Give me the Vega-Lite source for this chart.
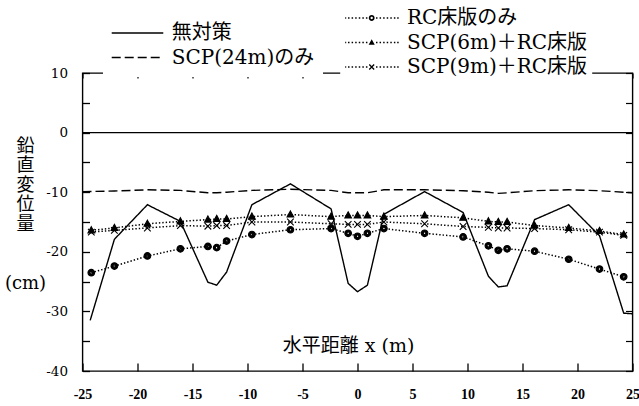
{
  "$schema": "https://vega.github.io/schema/vega-lite/v6.json",
  "width": 550,
  "height": 298,
  "autosize": {"type": "none"},
  "padding": {"left": 82.5, "top": 73, "right": 6.5, "bottom": 35},
  "background": "white",
  "config": {"view": {"stroke": "black", "strokeWidth": 1.4}},
  "datasets": {
    "lines": [
      {"case": "無対策", "x": -24.3, "y": -31.5},
      {"case": "無対策", "x": -22.1, "y": -17.9},
      {"case": "無対策", "x": -19.1, "y": -12.1},
      {"case": "無対策", "x": -16.1, "y": -14.9},
      {"case": "無対策", "x": -13.6, "y": -25.1},
      {"case": "無対策", "x": -12.8, "y": -25.6},
      {"case": "無対策", "x": -11.9, "y": -23.4},
      {"case": "無対策", "x": -9.6, "y": -12.1},
      {"case": "無対策", "x": -6.1, "y": -8.6},
      {"case": "無対策", "x": -2.4, "y": -12.8},
      {"case": "無対策", "x": -0.85, "y": -25.3},
      {"case": "無対策", "x": 0, "y": -26.7},
      {"case": "無対策", "x": 0.9, "y": -25.6},
      {"case": "無対策", "x": 2.4, "y": -13.7},
      {"case": "無対策", "x": 6.1, "y": -9.9},
      {"case": "無対策", "x": 9.6, "y": -13.4},
      {"case": "無対策", "x": 11.9, "y": -24.1},
      {"case": "無対策", "x": 12.8, "y": -25.9},
      {"case": "無対策", "x": 13.6, "y": -25.7},
      {"case": "無対策", "x": 16.1, "y": -14.6},
      {"case": "無対策", "x": 19.2, "y": -12.1},
      {"case": "無対策", "x": 22.0, "y": -17.3},
      {"case": "無対策", "x": 24.2, "y": -30.3},
      {"case": "無対策", "x": 25, "y": -30.4},
      {"case": "SCP(24m)のみ", "x": -25, "y": -9.9},
      {"case": "SCP(24m)のみ", "x": -22.1, "y": -9.8},
      {"case": "SCP(24m)のみ", "x": -19.1, "y": -9.6},
      {"case": "SCP(24m)のみ", "x": -16.1, "y": -9.7},
      {"case": "SCP(24m)のみ", "x": -13.6, "y": -10.1},
      {"case": "SCP(24m)のみ", "x": -12.8, "y": -10.1},
      {"case": "SCP(24m)のみ", "x": -11.9, "y": -10.0},
      {"case": "SCP(24m)のみ", "x": -9.6, "y": -9.7},
      {"case": "SCP(24m)のみ", "x": -6.1, "y": -9.5},
      {"case": "SCP(24m)のみ", "x": -2.4, "y": -9.7},
      {"case": "SCP(24m)のみ", "x": -0.85, "y": -10.1},
      {"case": "SCP(24m)のみ", "x": 0, "y": -10.1},
      {"case": "SCP(24m)のみ", "x": 0.9, "y": -10.1},
      {"case": "SCP(24m)のみ", "x": 2.4, "y": -9.6},
      {"case": "SCP(24m)のみ", "x": 6.1, "y": -9.6},
      {"case": "SCP(24m)のみ", "x": 9.6, "y": -9.75},
      {"case": "SCP(24m)のみ", "x": 11.9, "y": -10.0},
      {"case": "SCP(24m)のみ", "x": 12.8, "y": -10.2},
      {"case": "SCP(24m)のみ", "x": 13.6, "y": -10.1},
      {"case": "SCP(24m)のみ", "x": 16.1, "y": -9.75},
      {"case": "SCP(24m)のみ", "x": 19.2, "y": -9.6},
      {"case": "SCP(24m)のみ", "x": 22.0, "y": -9.75},
      {"case": "SCP(24m)のみ", "x": 24.2, "y": -10.0},
      {"case": "SCP(24m)のみ", "x": 25, "y": -10.1}
    ],
    "dotted": [
      {"method": "RC床版のみ", "x": -24.2, "y": -23.5},
      {"method": "RC床版のみ", "x": -22.1, "y": -22.4},
      {"method": "RC床版のみ", "x": -19.1, "y": -20.7},
      {"method": "RC床版のみ", "x": -16.1, "y": -19.5},
      {"method": "RC床版のみ", "x": -13.6, "y": -19.1},
      {"method": "RC床版のみ", "x": -12.8, "y": -19.3},
      {"method": "RC床版のみ", "x": -11.9, "y": -18.2},
      {"method": "RC床版のみ", "x": -9.6, "y": -17.1},
      {"method": "RC床版のみ", "x": -6.1, "y": -16.3},
      {"method": "RC床版のみ", "x": -2.4, "y": -16.1},
      {"method": "RC床版のみ", "x": -0.85, "y": -16.9},
      {"method": "RC床版のみ", "x": 0, "y": -17.4},
      {"method": "RC床版のみ", "x": 0.9, "y": -16.9},
      {"method": "RC床版のみ", "x": 2.4, "y": -16.1},
      {"method": "RC床版のみ", "x": 6.1, "y": -16.9},
      {"method": "RC床版のみ", "x": 9.6, "y": -17.5},
      {"method": "RC床版のみ", "x": 11.9, "y": -19.0},
      {"method": "RC床版のみ", "x": 12.8, "y": -19.75},
      {"method": "RC床版のみ", "x": 13.6, "y": -19.5},
      {"method": "RC床版のみ", "x": 16.1, "y": -19.9},
      {"method": "RC床版のみ", "x": 19.2, "y": -21.25},
      {"method": "RC床版のみ", "x": 22.0, "y": -22.9},
      {"method": "RC床版のみ", "x": 24.2, "y": -24.2},
      {"method": "SCP(6m)＋RC床版", "x": -24.2, "y": -16.4},
      {"method": "SCP(6m)＋RC床版", "x": -22.1, "y": -16.0},
      {"method": "SCP(6m)＋RC床版", "x": -19.1, "y": -15.3},
      {"method": "SCP(6m)＋RC床版", "x": -16.1, "y": -14.9},
      {"method": "SCP(6m)＋RC床版", "x": -13.6, "y": -14.6},
      {"method": "SCP(6m)＋RC床版", "x": -12.8, "y": -14.5},
      {"method": "SCP(6m)＋RC床版", "x": -11.9, "y": -14.5},
      {"method": "SCP(6m)＋RC床版", "x": -9.6, "y": -14.1},
      {"method": "SCP(6m)＋RC床版", "x": -6.1, "y": -13.75},
      {"method": "SCP(6m)＋RC床版", "x": -2.4, "y": -14.1},
      {"method": "SCP(6m)＋RC床版", "x": -0.85, "y": -13.9},
      {"method": "SCP(6m)＋RC床版", "x": 0, "y": -13.9},
      {"method": "SCP(6m)＋RC床版", "x": 0.9, "y": -13.9},
      {"method": "SCP(6m)＋RC床版", "x": 2.4, "y": -14.1},
      {"method": "SCP(6m)＋RC床版", "x": 6.1, "y": -13.9},
      {"method": "SCP(6m)＋RC床版", "x": 9.6, "y": -14.3},
      {"method": "SCP(6m)＋RC床版", "x": 11.9, "y": -14.9},
      {"method": "SCP(6m)＋RC床版", "x": 12.8, "y": -15.0},
      {"method": "SCP(6m)＋RC床版", "x": 13.6, "y": -15.0},
      {"method": "SCP(6m)＋RC床版", "x": 16.1, "y": -15.6},
      {"method": "SCP(6m)＋RC床版", "x": 19.2, "y": -16.0},
      {"method": "SCP(6m)＋RC床版", "x": 22.0, "y": -16.5},
      {"method": "SCP(6m)＋RC床版", "x": 24.2, "y": -17.1},
      {"method": "SCP(9m)＋RC床版", "x": -24.2, "y": -16.7},
      {"method": "SCP(9m)＋RC床版", "x": -22.1, "y": -16.4},
      {"method": "SCP(9m)＋RC床版", "x": -19.1, "y": -16.0},
      {"method": "SCP(9m)＋RC床版", "x": -16.1, "y": -15.6},
      {"method": "SCP(9m)＋RC床版", "x": -13.6, "y": -15.7},
      {"method": "SCP(9m)＋RC床版", "x": -12.8, "y": -15.6},
      {"method": "SCP(9m)＋RC床版", "x": -11.9, "y": -15.6},
      {"method": "SCP(9m)＋RC床版", "x": -9.6, "y": -15.0},
      {"method": "SCP(9m)＋RC床版", "x": -6.1, "y": -15.0},
      {"method": "SCP(9m)＋RC床版", "x": -2.4, "y": -15.3},
      {"method": "SCP(9m)＋RC床版", "x": -0.85, "y": -15.4},
      {"method": "SCP(9m)＋RC床版", "x": 0, "y": -15.4},
      {"method": "SCP(9m)＋RC床版", "x": 0.9, "y": -15.4},
      {"method": "SCP(9m)＋RC床版", "x": 2.4, "y": -15.0},
      {"method": "SCP(9m)＋RC床版", "x": 6.1, "y": -15.3},
      {"method": "SCP(9m)＋RC床版", "x": 9.6, "y": -15.75},
      {"method": "SCP(9m)＋RC床版", "x": 11.9, "y": -15.9},
      {"method": "SCP(9m)＋RC床版", "x": 12.8, "y": -16.0},
      {"method": "SCP(9m)＋RC床版", "x": 13.6, "y": -16.0},
      {"method": "SCP(9m)＋RC床版", "x": 16.1, "y": -16.1},
      {"method": "SCP(9m)＋RC床版", "x": 19.2, "y": -16.3},
      {"method": "SCP(9m)＋RC床版", "x": 22.0, "y": -16.7},
      {"method": "SCP(9m)＋RC床版", "x": 24.2, "y": -17.25}
    ],
    "zero": [{"y": 0}]
  },
  "layer": [
    {
      "data": {"name": "dotted"},
      "mark": {"type": "line", "color": "black", "strokeWidth": 1.5, "strokeDash": [1.4, 2.0]},
      "encoding": {
        "x": {"field": "x", "type": "quantitative", "scale": {"domain": [-25, 25], "nice": false, "zero": false},
          "axis": {"orient": "bottom", "values": [-25, -20, -15, -10, -5, 0, 5, 10, 15, 20, 25],
            "title": "水平距離 x (m)", "titleX": 265.5, "titleY": -26, "titleAlign": "center", "titleBaseline": "middle",
            "titleFont": "DejaVu Serif, Noto Sans CJK JP", "titleFontSize": 19, "titleFontWeight": "normal", "titleColor": "black",
            "domain": false, "grid": false, "tickSize": -8, "tickColor": "black", "tickWidth": 1.3,
            "labelPadding": 24, "labelFont": "Liberation Serif", "labelFontSize": 14, "labelFontWeight": "bold", "labelColor": "black",
            "labelExpr": "'' + datum.value", "labelFlush": false, "labelOverlap": false, "labelBound": false}},
        "y": {"field": "y", "type": "quantitative", "scale": {"domain": [-40, 10], "nice": false, "zero": false},
          "axis": {"orient": "left", "values": [-40, -35, -30, -25, -20, -15, -10, -5, 0, 5, 10],
            "title": ["鉛", "直", "変", "位", "量"], "titleAngle": 0, "titleX": -57.5, "titleY": 64,
            "titleAlign": "center", "titleBaseline": "top", "titleFont": "DejaVu Serif, Noto Sans CJK JP", "titleFontSize": 18,
            "titleLineHeight": 19.5, "titleFontWeight": "normal", "titleColor": "black",
            "domain": false, "grid": false, "tickSize": -7, "tickColor": "black", "tickWidth": 1.3,
            "labelPadding": 22, "labelFont": "DejaVu Serif", "labelFontSize": 13.5, "labelColor": "black", "labelBaseline": "middle",
            "labelExpr": "datum.value % 10 === 0 ? '' + datum.value : ''", "labelFlush": false, "labelOverlap": false, "labelBound": false}},
        "detail": {"field": "method"}
      }
    },
    {
      "data": {"name": "dotted"},
      "mark": {"type": "point", "filled": true, "fill": "black", "stroke": "black", "strokeWidth": 1.1, "size": 44, "opacity": 1},
      "encoding": {
        "x": {"field": "x", "type": "quantitative",
          "axis": {"orient": "top", "values": [-25, -20, -15, -10, -5, 0, 5, 10, 15, 20, 25], "labels": false, "title": null,
            "domain": false, "grid": false, "tickSize": -5, "tickColor": "black", "tickWidth": 1.2}},
        "y": {"field": "y", "type": "quantitative",
          "axis": {"orient": "right", "values": [-40, -35, -30, -25, -20, -15, -10, -5, 0, 5, 10], "labels": false,
            "title": "(cm)", "titleAngle": 0, "titleX": -607.5, "titleY": 210, "titleAlign": "center", "titleBaseline": "middle",
            "titleFont": "DejaVu Serif", "titleFontSize": 18, "titleFontWeight": "normal", "titleColor": "black",
            "domain": false, "grid": false, "tickSize": -7, "tickColor": "black", "tickWidth": 1.2}},
        "shape": {"field": "method", "type": "nominal",
          "scale": {"domain": ["RC床版のみ", "SCP(6m)＋RC床版", "SCP(9m)＋RC床版"],
            "range": ["M1,0A1,1 0 1,1 -1,0A1,1 0 1,1 1,0ZM0.4,0A0.4,0.4 0 1,0 -0.4,0A0.4,0.4 0 1,0 0.4,0Z", "M0,-1.1L1,0.75L-1,0.75Z", "M-1,-1L1,1M-1,1L1,-1"]},
          "legend": null}
      }
    },
    {
      "data": {"name": "dotted"},
      "mark": {"type": "point", "filled": true, "fill": "black", "strokeWidth": 0, "size": 0, "opacity": 1},
      "encoding": {
        "x": {"field": "x", "type": "quantitative", "axis": null},
        "y": {"field": "y", "type": "quantitative", "axis": null},
        "shape": {"field": "method", "type": "nominal",
          "scale": {"domain": ["RC床版のみ", "SCP(6m)＋RC床版", "SCP(9m)＋RC床版"],
            "range": [
              "M-1.018,-0.028h0.056v0.056h-0.056zM-0.893,-0.028h0.056v0.056h-0.056zM-0.758,-0.028h0.056v0.056h-0.056zM-0.623,-0.028h0.056v0.056h-0.056zM-0.488,-0.028h0.056v0.056h-0.056zM-0.353,-0.028h0.056v0.056h-0.056zM-0.218,-0.028h0.056v0.056h-0.056zM0.162,-0.028h0.056v0.056h-0.056zM0.297,-0.028h0.056v0.056h-0.056zM0.432,-0.028h0.056v0.056h-0.056zM0.567,-0.028h0.056v0.056h-0.056zM0.702,-0.028h0.056v0.056h-0.056zM0.837,-0.028h0.056v0.056h-0.056zM0.962,-0.028h0.056v0.056h-0.056zM0.11,0A0.11,0.11 0 1,1 -0.11,0A0.11,0.11 0 1,1 0.11,0ZM0.045,0A0.045,0.045 0 1,0 -0.045,0A0.045,0.045 0 1,0 0.045,0Z",
              "M-1.018,-0.028h0.056v0.056h-0.056zM-0.893,-0.028h0.056v0.056h-0.056zM-0.758,-0.028h0.056v0.056h-0.056zM-0.623,-0.028h0.056v0.056h-0.056zM-0.488,-0.028h0.056v0.056h-0.056zM-0.353,-0.028h0.056v0.056h-0.056zM-0.218,-0.028h0.056v0.056h-0.056zM0.162,-0.028h0.056v0.056h-0.056zM0.297,-0.028h0.056v0.056h-0.056zM0.432,-0.028h0.056v0.056h-0.056zM0.567,-0.028h0.056v0.056h-0.056zM0.702,-0.028h0.056v0.056h-0.056zM0.837,-0.028h0.056v0.056h-0.056zM0.962,-0.028h0.056v0.056h-0.056zM0,-0.12L0.115,0.085L-0.115,0.085Z",
              "M-1.018,-0.028h0.056v0.056h-0.056zM-0.893,-0.028h0.056v0.056h-0.056zM-0.758,-0.028h0.056v0.056h-0.056zM-0.623,-0.028h0.056v0.056h-0.056zM-0.488,-0.028h0.056v0.056h-0.056zM-0.353,-0.028h0.056v0.056h-0.056zM-0.218,-0.028h0.056v0.056h-0.056zM0.162,-0.028h0.056v0.056h-0.056zM0.297,-0.028h0.056v0.056h-0.056zM0.432,-0.028h0.056v0.056h-0.056zM0.567,-0.028h0.056v0.056h-0.056zM0.702,-0.028h0.056v0.056h-0.056zM0.837,-0.028h0.056v0.056h-0.056zM0.962,-0.028h0.056v0.056h-0.056zM-0.11,-0.075L-0.075,-0.11L0.11,0.075L0.075,0.11ZM-0.11,0.075L0.075,-0.11L0.11,-0.075L-0.075,0.11Z"
            ]},
          "legend": {"orient": "none", "legendX": 257.7, "legendY": -71, "title": null, "fillColor": "white", "padding": 5,
            "symbolSize": 2809, "symbolStrokeWidth": 0, "symbolFillColor": "black", "clipHeight": 22, "rowPadding": 2.5, "labelOffset": 8.8,
            "labelFont": "DejaVu Serif, Noto Sans CJK JP", "labelFontSize": 20, "labelColor": "black", "labelLimit": 400}
        }
      }
    },
    {
      "data": {"name": "lines"},
      "mark": {"type": "line", "color": "black", "strokeWidth": 1.4},
      "encoding": {
        "x": {"field": "x", "type": "quantitative", "axis": null},
        "y": {"field": "y", "type": "quantitative", "axis": null},
        "strokeDash": {"field": "case", "type": "nominal",
          "scale": {"domain": ["無対策", "SCP(24m)のみ"], "range": [[1, 0], [9, 4]]},
          "legend": {"orient": "none", "legendX": 20.5, "legendY": -59, "title": null, "fillColor": "white", "padding": 8,
            "symbolType": "stroke", "symbolSize": 2660, "symbolStrokeWidth": 1.3, "symbolStrokeColor": "black",
            "clipHeight": 22, "rowPadding": 2.5, "labelOffset": 7.7,
            "labelFont": "DejaVu Serif, Noto Sans CJK JP", "labelFontSize": 20, "labelColor": "black", "labelLimit": 400}
        }
      }
    },
    {
      "data": {"name": "zero"},
      "mark": {"type": "rule", "color": "black", "strokeWidth": 1.4},
      "encoding": {"y": {"field": "y", "type": "quantitative", "axis": null}}
    }
  ],
  "resolve": {"axis": {"x": "independent", "y": "independent"}, "scale": {"shape": "independent"}}
}
